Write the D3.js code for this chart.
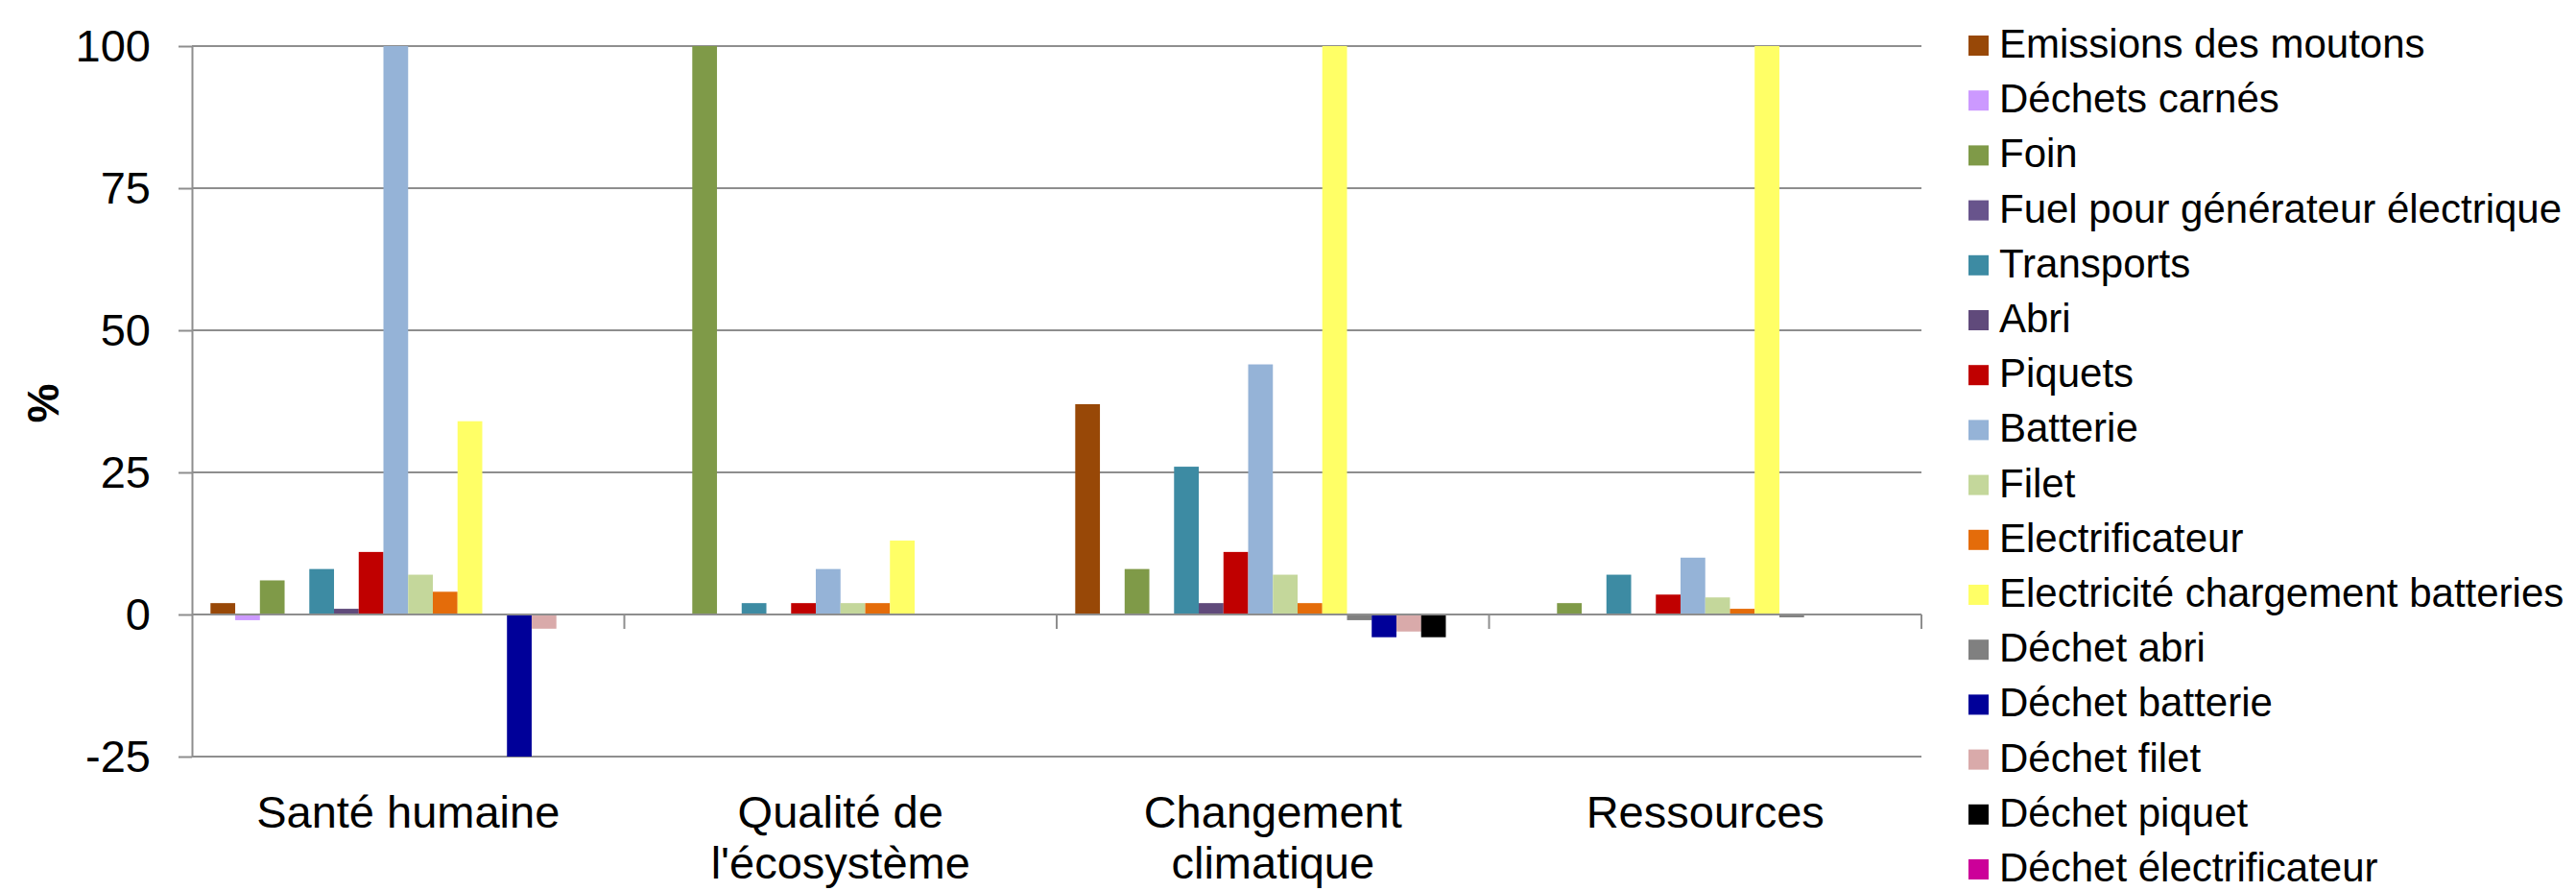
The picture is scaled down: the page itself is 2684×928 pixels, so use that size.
<!DOCTYPE html>
<html>
<head>
<meta charset="utf-8">
<script src="https://cdn.jsdelivr.net/npm/d3@7"></script>
<style>
  html, body { margin: 0; padding: 0; background: #ffffff; }
  svg { display: block; }
  text { font-family: "Liberation Sans", Arial, sans-serif; fill: #000; }
</style>
</head>
<body>
<svg id="chart" width="2684" height="928"></svg>
<script>
// ---- Data ----
const categories = ["Santé humaine", "Qualité de\nl'écosystème", "Changement\nclimatique", "Ressources"];

const seriesNames = [
  "Emissions des moutons", "Déchets carnés", "Foin", "Fuel pour générateur électrique",
  "Transports", "Abri", "Piquets", "Batterie", "Filet", "Electrificateur",
  "Electricité chargement batteries", "Déchet abri", "Déchet batterie", "Déchet filet",
  "Déchet piquet", "Déchet électrificateur"
];

const emissionsMoutons      = [2, 0, 37, 0];
const dechetsCarnes         = [-1, 0, 0, 0];
const foin                  = [6, 100, 8, 2];
const fuelGenerateur        = [0, 0, 0, 0];
const transports            = [8, 2, 26, 7];
const abri                  = [1, 0, 2, 0];
const piquets               = [11, 2, 11, 3.5];
const batterie              = [100, 8, 44, 10];
const filet                 = [7, 2, 7, 3];
const electrificateur       = [4, 2, 2, 1];
const electriciteBatteries  = [34, 13, 100, 100];
const dechetAbri            = [0, 0, -1, -0.5];
const dechetBatterie        = [-25, 0, -4, 0];
const dechetFilet           = [-2.5, 0, -3, 0];
const dechetPiquet          = [0, 0, -4, 0];
const dechetElectrificateur = [0, 0, 0, 0];

const yTicks = [-25, 0, 25, 50, 75, 100];
const yTickLabels = ["-25", "0", "25", "50", "75", "100"];
const yLabel = "%";

// ---- Series table ----
const seriesValues = [
  emissionsMoutons, dechetsCarnes, foin, fuelGenerateur, transports, abri, piquets,
  batterie, filet, electrificateur, electriciteBatteries, dechetAbri, dechetBatterie,
  dechetFilet, dechetPiquet, dechetElectrificateur
];
const colors = [
  "#984807", "#CC99FF", "#7F9A48", "#68548C", "#3D8BA3", "#604A7B", "#C00000",
  "#95B3D7", "#C4D79B", "#E46C0A", "#FFFF66", "#808080", "#000099",
  "#D9AAAA", "#000000", "#CC0099"
];

const svg = d3.select("#chart");
const gridColor = "#8E8E8E";

// ---- Scales ----
const plotLeft = 200, plotRight = 2002, plotTop = 48, plotBottom = 788;
const x0 = d3.scaleBand().domain(categories).range([plotLeft, plotRight]).paddingInner(0).paddingOuter(0);
const x1 = d3.scaleBand().domain(seriesNames).range([0, x0.bandwidth()]).paddingInner(0).paddingOuter(0.75);
const y = d3.scaleLinear().domain([-25, 100]).range([plotBottom, plotTop]);
const color = d3.scaleOrdinal().domain(seriesNames).range(colors);

// ---- Gridlines ----
svg.append("g")
  .selectAll("line")
  .data(yTicks)
  .join("line")
  .attr("x1", plotLeft).attr("x2", plotRight)
  .attr("y1", d => y(d)).attr("y2", d => y(d))
  .attr("stroke", gridColor).attr("stroke-width", 2);

// ---- Y axis ----
const yAxis = svg.append("g")
  .attr("transform", `translate(${plotLeft},0)`)
  .call(d3.axisLeft(y).tickValues(yTicks)
    .tickFormat((d, i) => yTickLabels[i])
    .tickSize(14).tickPadding(29).tickSizeOuter(0));
yAxis.select(".domain").attr("stroke", gridColor).attr("stroke-width", 2);
yAxis.selectAll(".tick line").attr("stroke", gridColor).attr("stroke-width", 2);
yAxis.selectAll(".tick text")
  .attr("font-family", "'Liberation Sans', Arial, sans-serif")
  .attr("font-size", 47).attr("fill", "#000");

// ---- Bars ----
const table = categories.map((c, i) => ({
  cat: c,
  vals: seriesNames.map((s, j) => ({ name: s, value: seriesValues[j][i] }))
}));

svg.append("g")
  .selectAll("g")
  .data(table)
  .join("g")
  .attr("transform", d => `translate(${x0(d.cat)},0)`)
  .selectAll("rect")
  .data(d => d.vals.filter(v => v.value !== 0))
  .join("rect")
  .attr("x", d => x1(d.name))
  .attr("width", x1.bandwidth())
  .attr("y", d => y(Math.max(0, d.value)))
  .attr("height", d => Math.abs(y(d.value) - y(0)))
  .attr("fill", d => color(d.name));

// ---- Category axis at zero ----
const catAxis = svg.append("g");
catAxis.append("line")
  .attr("x1", plotLeft).attr("x2", plotRight)
  .attr("y1", y(0)).attr("y2", y(0))
  .attr("stroke", gridColor).attr("stroke-width", 2);
const boundaries = categories.slice(1).map(c => x0(c)).concat([x0(categories[categories.length - 1]) + x0.bandwidth()]);
catAxis.selectAll("line.tk")
  .data(boundaries)
  .join("line")
  .attr("class", "tk")
  .attr("x1", d => d).attr("x2", d => d)
  .attr("y1", y(0)).attr("y2", y(0) + 15)
  .attr("stroke", gridColor).attr("stroke-width", 2);

// ---- Category labels ----
const labels = svg.append("g")
  .selectAll("text")
  .data(categories)
  .join("text")
  .attr("text-anchor", "middle")
  .attr("font-size", 47)
  .attr("x", d => x0(d) + x0.bandwidth() / 2)
  .attr("y", 862);
labels.each(function(d) {
  const lines = d.split("\n");
  const t = d3.select(this);
  lines.forEach((ln, k) => {
    t.append("tspan")
      .attr("x", x0(d) + x0.bandwidth() / 2)
      .attr("dy", k === 0 ? 0 : 53)
      .text(ln);
  });
});

// ---- Y label ----
svg.append("text")
  .attr("transform", "translate(61,420) rotate(-90)")
  .attr("text-anchor", "middle")
  .attr("font-size", 46)
  .attr("font-weight", "bold")
  .text(yLabel);

// ---- Legend ----
const legend = svg.append("g")
  .selectAll("g")
  .data(seriesNames)
  .join("g")
  .attr("transform", (d, i) => `translate(2051,${37 + i * 57.2})`);
legend.append("rect")
  .attr("width", 21).attr("height", 21)
  .attr("fill", d => color(d));
legend.append("text")
  .attr("x", 32).attr("y", 23)
  .attr("font-size", 42)
  .text(d => d);
</script>
</body>
</html>
